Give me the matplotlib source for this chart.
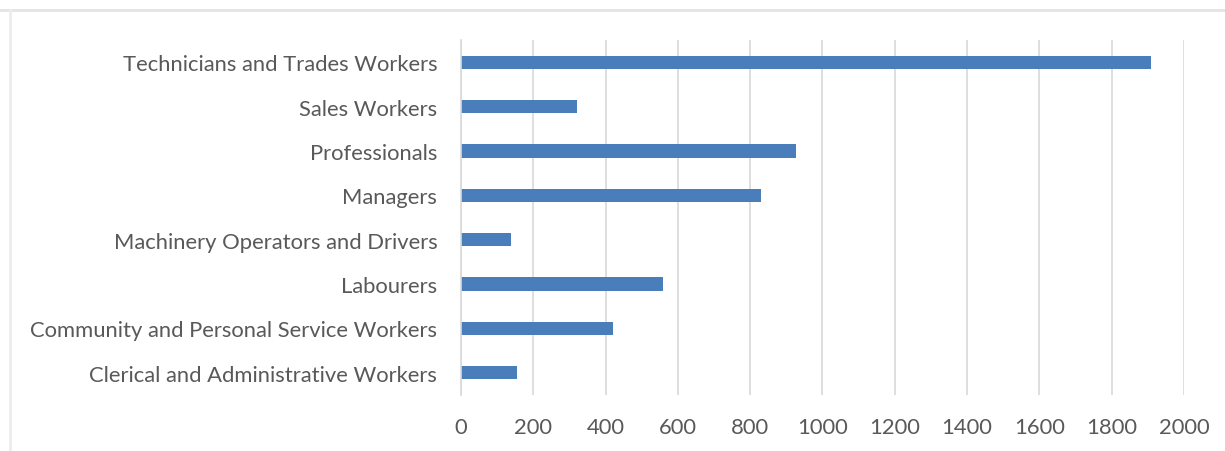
import matplotlib
matplotlib.use("Agg")
import matplotlib.pyplot as plt
from matplotlib.lines import Line2D

categories = [
    "Clerical and Administrative Workers",
    "Community and Personal Service Workers",
    "Labourers",
    "Machinery Operators and Drivers",
    "Managers",
    "Professionals",
    "Sales Workers",
    "Technicians and Trades Workers",
]
values = [155, 420, 559, 138, 830, 927, 321, 1909]
xticks = [0, 200, 400, 600, 800, 1000, 1200, 1400, 1600, 1800, 2000]

plt.rcParams['font.family'] = ['Lato', 'DejaVu Sans']
fig = plt.figure(figsize=(12.25, 4.52), dpi=100)
ax = fig.add_axes([0.3763, 0.1239, 0.5902, 0.7854])

ypos = list(range(len(categories)))
ax.barh(ypos, values, height=0.3, color="#4a7ebb", zorder=3)
ax.set_ylim(-0.5, len(categories) - 0.5)
ax.set_xlim(0, 2000)
ax.set_xticks(xticks)
ax.set_xticklabels([str(t) for t in xticks])
ax.set_yticks(ypos)
ax.set_yticklabels(categories)
ax.tick_params(axis='both', length=0, labelsize=15.8, colors="#595959")
ax.tick_params(axis='y', pad=17)
ax.tick_params(axis='x', pad=16)
ax.grid(axis='x', color="#d9d9d9", linewidth=1.2, zorder=0)
for s in ['top', 'right', 'bottom']:
    ax.spines[s].set_visible(False)
ax.spines['left'].set_color("#d9d9d9")
ax.spines['left'].set_linewidth(1.2)
ax.spines['left'].set_zorder(4)

# chart frame
fig.add_artist(Line2D([0, 1], [1 - 11/452, 1 - 11/452], transform=fig.transFigure,
                      color="#e3e3e3", linewidth=2))
fig.add_artist(Line2D([10/1225, 10/1225], [0, 1 - 11/452], transform=fig.transFigure,
                      color="#ececec", linewidth=2))

fig.savefig("out.png", dpi=100)
